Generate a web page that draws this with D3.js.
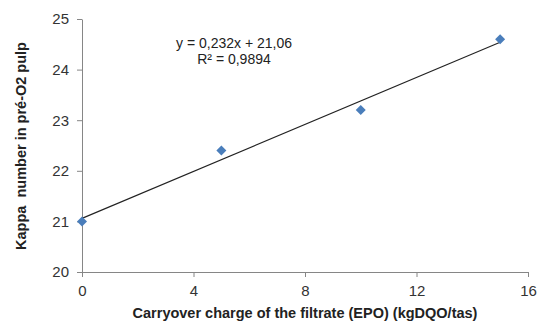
<!DOCTYPE html>
<html>
<head>
<meta charset="utf-8">
<script src="https://cdn.jsdelivr.net/npm/d3@7"></script>
<style>
  body { margin: 0; background: #fff; }
  text { font-family: "Liberation Sans", Arial, sans-serif; }
</style>
</head>
<body>
<div id="chrt"></div>
<script>
// data
const xValues = [0, 5, 10, 15];
const yValues = [21, 22.4, 23.2, 24.6];
const xTicks = [0, 4, 8, 12, 16];
const yTicks = [20, 21, 22, 23, 24, 25];
const trendSlope = 0.232;
const trendIntercept = 21.06;
const equationLines = ['y = 0,232x + 21,06', 'R\u00b2 = 0,9894'];
const xTitle = 'Carryover charge of the filtrate (EPO) (kgDQO/tas)';
const yTitle = 'Kappa  number in pré-O2 pulp';

const width = 537, height = 322;
const margin = {top: 19, right: 9, bottom: 50, left: 82};
const plotW = width - margin.left - margin.right;
const plotH = height - margin.top - margin.bottom;
const axisColor = '#868686';

const svg = d3.select('#chrt').append('svg')
    .attr('width', width)
    .attr('height', height);
const g = svg.append('g')
    .attr('transform', 'translate(' + margin.left + ',' + margin.top + ')');

const scaleX = d3.scaleLinear().domain([0, 16]).range([0, plotW]);
const scaleY = d3.scaleLinear().domain([20, 25]).range([plotH, 0]);

// axes
const xAxis = g.append('g')
    .attr('transform', 'translate(0,' + plotH + ')')
    .call(d3.axisBottom(scaleX).tickValues(xTicks).tickFormat(d3.format('d'))
        .tickSize(5).tickSizeOuter(0).tickPadding(8));
const yAxis = g.append('g')
    .call(d3.axisLeft(scaleY).tickValues(yTicks).tickFormat(d3.format('d'))
        .tickSize(5).tickSizeOuter(0).tickPadding(8));
[xAxis, yAxis].forEach((ax) => {
  ax.select('.domain').attr('stroke', axisColor);
  ax.selectAll('.tick line').attr('stroke', axisColor);
  ax.selectAll('.tick text')
      .attr('fill', '#333')
      .style('font-size', '15px')
      .style('font-family', '"Liberation Sans", Arial, sans-serif');
});

// trendline
g.append('line')
    .attr('x1', scaleX(0))
    .attr('y1', scaleY(trendIntercept))
    .attr('x2', scaleX(15))
    .attr('y2', scaleY(trendIntercept + trendSlope * 15))
    .attr('stroke', '#222')
    .attr('stroke-width', 1.2);

// diamond markers
const diamond = d3.symbol().type(d3.symbolDiamond2).size(64);
g.selectAll('.pt')
    .data(xValues.map((x, i) => ({x: x, y: yValues[i]})))
    .enter()
    .append('path')
    .attr('d', diamond)
    .attr('transform', (d) => 'translate(' + scaleX(d.x) + ',' + scaleY(d.y) + ')')
    .attr('fill', '#4a7ebb');

// regression equation
svg.selectAll('.eq')
    .data(equationLines)
    .enter()
    .append('text')
    .attr('x', 234)
    .attr('y', (d, i) => 48 + i * 16)
    .attr('text-anchor', 'middle')
    .style('font-size', '14px')
    .attr('fill', '#222')
    .text((d) => d);

// axis titles
svg.append('text')
    .attr('x', 305)
    .attr('y', 318)
    .attr('text-anchor', 'middle')
    .style('font-size', '14.5px')
    .style('font-weight', 'bold')
    .attr('fill', '#222')
    .text(xTitle);
svg.append('text')
    .attr('transform', 'translate(26,146) rotate(-90)')
    .attr('text-anchor', 'middle')
    .style('font-size', '14.5px')
    .style('font-weight', 'bold')
    .attr('fill', '#222')
    .style('white-space', 'pre')
    .text(yTitle);
</script>
</body>
</html>
